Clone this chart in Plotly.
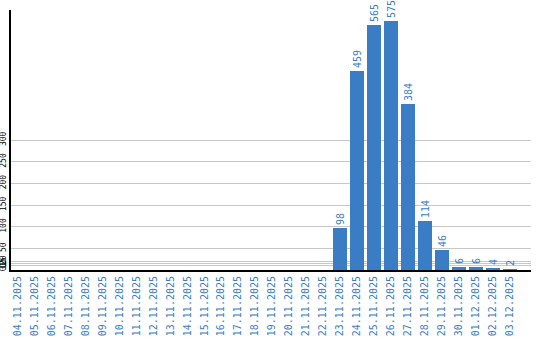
import plotly.graph_objects as go

dates = ["04.11.2025", "05.11.2025", "06.11.2025", "07.11.2025", "08.11.2025",
         "09.11.2025", "10.11.2025", "11.11.2025", "12.11.2025", "13.11.2025",
         "14.11.2025", "15.11.2025", "16.11.2025", "17.11.2025", "18.11.2025",
         "19.11.2025", "20.11.2025", "21.11.2025", "22.11.2025", "23.11.2025",
         "24.11.2025", "25.11.2025", "26.11.2025", "27.11.2025", "28.11.2025",
         "29.11.2025", "30.11.2025", "01.12.2025", "02.12.2025", "03.12.2025"]
values = [None] * 19 + [98, 459, 565, 575, 384, 114, 46, 6, 6, 4, 2]
y_ticks = [0, 10, 15, 20, 50, 100, 150, 200, 250, 300]

blue = "#3b7dc4"

fig = go.Figure(go.Bar(
    x=list(range(len(dates))), y=values,
    marker=dict(color=blue, line=dict(width=0)),
    width=0.82,
    text=[str(v) if v is not None else "" for v in values],
    textposition="outside", textangle=-90,
    textfont=dict(family="DejaVu Sans Mono", size=10, color=blue),
    constraintext="none", cliponaxis=False,
))

fig.update_layout(
    width=540, height=340,
    margin=dict(l=10.5, r=9, t=10, b=70),
    paper_bgcolor="white", plot_bgcolor="white",
    showlegend=False,
    bargap=0,
)
fig.update_xaxes(
    range=[-0.38, 30.24],
    tickmode="array", tickvals=list(range(len(dates))), ticktext=dates,
    tickangle=-90,
    tickfont=dict(family="DejaVu Sans Mono", size=10, color=blue),
    showline=True, linecolor="black", linewidth=2,
    showgrid=False, ticks="", automargin=False,
)
fig.update_yaxes(
    range=[0, 600],
    tickmode="array", tickvals=y_ticks,
    tickangle=-90,
    tickfont=dict(family="DejaVu Sans Mono", size=8, color="black"),
    showline=True, linecolor="black", linewidth=2,
    showgrid=True, gridcolor="#c8c8c8", gridwidth=1,
    zeroline=False, ticks="", automargin=False,
)

fig.write_html("out.html")
